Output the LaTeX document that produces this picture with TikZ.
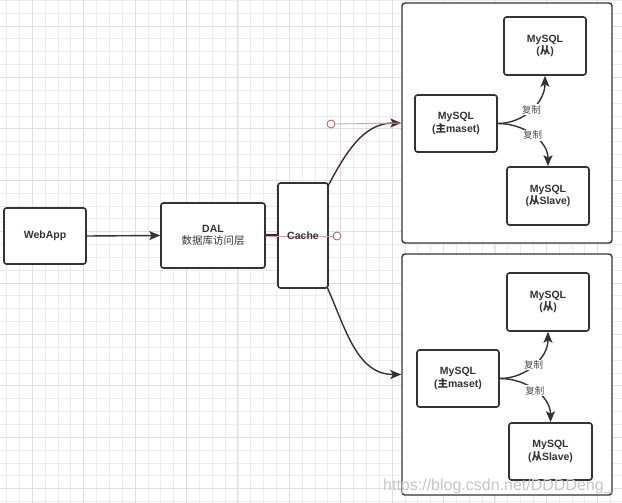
\documentclass[tikz,border=0pt]{standalone}
\usepackage{fontspec}
\setmainfont{Liberation Sans}
\newfontfamily\cjk{Noto Sans CJK SC}
\usetikzlibrary{arrows.meta}
\definecolor{ink}{HTML}{333333}
\definecolor{gridminor}{HTML}{ECECEC}
\definecolor{gridmajor}{HTML}{E0E0E0}
\definecolor{guide}{HTML}{D4A3A3}
\definecolor{guidecirc}{HTML}{B86A6A}
\definecolor{seledge}{HTML}{4A2626}
\tikzset{
  box/.style={draw=ink, line width=1.6pt, rounded corners=2.5pt, fill=white,
    inner sep=0pt, align=center, text=ink, font=\bfseries\fontsize{10.5}{12.5}\selectfont},
  group/.style={draw=ink, line width=1.4pt, rounded corners=3pt, fill=white, inner sep=0pt},
  edge/.style={draw=ink, line width=1.4pt, -{Stealth[length=11pt,width=9pt,inset=2.5pt]}},
  lbl/.style={fill=white, inner sep=1pt, text=ink!85, font=\cjk\fontsize{9.5}{11}\selectfont},
  guideline/.style={draw=guide, line width=0.9pt},
  guidedot/.style={draw=guidecirc, line width=0.9pt, fill=white, circle, minimum size=8pt, inner sep=0pt}
}
\begin{document}
\begin{tikzpicture}[x=1pt,y=-1pt]
\useasboundingbox (0,0) rectangle (622,503);
\fill[white] (0,0) rectangle (622,503);
% grid
\foreach \i in {0,...,48} \draw[gridminor, line width=0.8pt] ({6.6+12.85*\i},0) -- ({6.6+12.85*\i},503);
\foreach \i in {0,...,39} \draw[gridminor, line width=0.8pt] (0,{0.3+12.85*\i}) -- (622,{0.3+12.85*\i});
\foreach \i in {0,...,12} \draw[gridmajor, line width=0.9pt] ({32.3+51.4*\i},0) -- ({32.3+51.4*\i},503);
\foreach \i in {0,...,10} \draw[gridmajor, line width=0.9pt] (0,{26+51.4*\i}) -- (622,{26+51.4*\i});

% groups
\node[group, minimum width=210pt, minimum height=240pt] (g1) at (507,123) {};
\node[group, minimum width=210pt, minimum height=241pt] (g2) at (507,374.5) {};

% main nodes
\node[box, minimum width=82pt, minimum height=56pt] (web) at (45,236) {WebApp};
\node[box, minimum width=104pt, minimum height=65pt] (dal) at (213,235.5) {DAL\\[-1pt]{\cjk\mdseries 数据库访问层}};
\node[box, minimum width=50pt, minimum height=105pt] (cache) at (303,235.5) {};

% group 1
\node[box, minimum width=82pt, minimum height=57pt] (m1) at (456,123.5) {MySQL\\({\cjk 主}maset)};
\node[box, minimum width=82pt, minimum height=58pt] (s1a) at (545,46) {MySQL\\({\cjk 从})};
\node[box, minimum width=82pt, minimum height=58pt] (s1b) at (548,196) {MySQL\\({\cjk 从}Slave)};
% group 2
\node[box, minimum width=82pt, minimum height=57pt] (m2) at (458,378.5) {MySQL\\({\cjk 主}maset)};
\node[box, minimum width=82pt, minimum height=58pt] (s2a) at (548,302) {MySQL\\({\cjk 从})};
\node[box, minimum width=83pt, minimum height=57pt] (s2b) at (550.5,451.5) {MySQL\\({\cjk 从}Slave)};

% connectors
\draw[edge] (web.east) -- (dal.west);
\draw[seledge, line width=2.4pt] (dal.east) -- (cache.west);
\coordinate (c1s) at (328,186);
\coordinate (c2s) at (327.5,288);
\draw[edge, draw=seledge] (c1s) to[out=62,in=180] (g1.west);
\draw[edge] (c2s) to[out=-66,in=180] (g2.west);

% guide lines (editor artefacts)
\node[guidedot] (gd1) at (331,124) {};
\node[guidedot] (gd2) at (337,236) {};
\coordinate (gl2s) at (266,236);
\draw[guideline] (gd1.east) -- (g1.west);
\draw[guideline] (gl2s) -- (gd2.west);
\node[text=ink, font=\bfseries\fontsize{10.5}{12.5}\selectfont] (cachelbl) at (cache.center) {Cache};

% replication
\draw[edge] (m1.east) to[out=0,in=-90] node[lbl]{复制} (s1a.south);
\draw[edge] (m1.east) to[out=0,in=90] node[lbl]{复制} (s1b.north);
\draw[edge] (m2.east) to[out=0,in=-90] node[lbl]{复制} (s2a.south);
\draw[edge] (m2.east) to[out=0,in=90] node[lbl]{复制} (s2b.north);

% watermark
\node[anchor=base west, inner sep=0pt, text=gray!45, font=\fontsize{16}{18}\selectfont] (wm) at (383,490) {https://blog.csdn.net/DDDDeng\_};
\end{tikzpicture}
\end{document}
